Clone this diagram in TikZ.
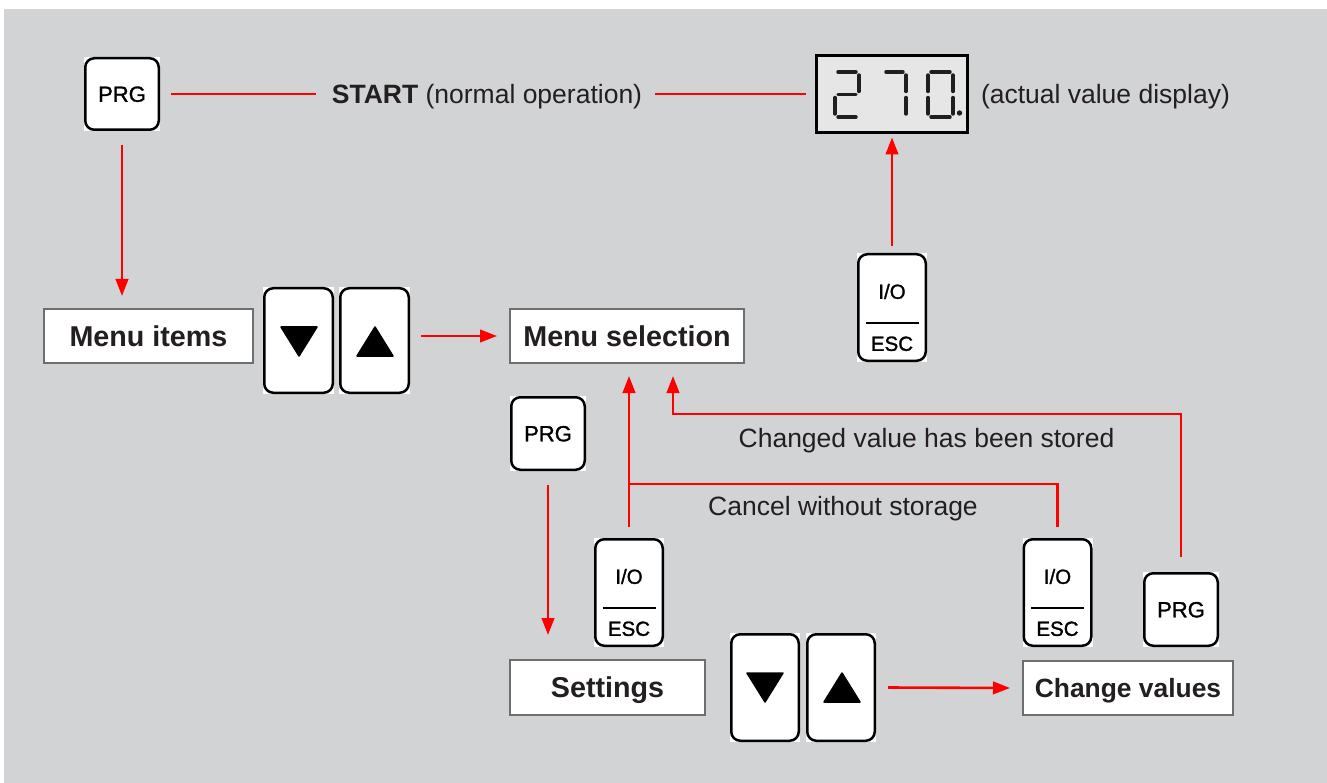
\documentclass[tikz,border=0pt]{standalone}
\usepackage{fontspec}
\setmainfont{Liberation Sans}
\newfontfamily\keyfont{Liberation Sans}[BoldFont={Liberation Sans}, BoldFeatures={FakeBold=1.3}]
\usetikzlibrary{arrows.meta}
\definecolor{bggray}{RGB}{210,211,213}
\definecolor{txt}{RGB}{35,31,32}
\definecolor{boxline}{RGB}{109,110,112}
\definecolor{lcd}{RGB}{230,230,230}
\definecolor{rd}{RGB}{255,0,0}
\newcommand\iobtn[3]{%
  \node[btn, minimum width=70, minimum height=109] (#1) at (#2,#3) {};
  \node[keytxt, font=\keyfont\bfseries\fontsize{20.5}{22}\selectfont, text height=14.7pt] (#1-a) at ([yshift=16pt]#1.center) {I/O};
  \node[keytxt, font=\keyfont\bfseries\fontsize{20.5}{22}\selectfont, text height=14.7pt] (#1-b) at ([yshift=-36pt]#1.center) {ESC};
  \draw[black, line width=1.6pt] ([xshift=-26.5pt,yshift=-15.5pt]#1.center) -- ([xshift=26.5pt,yshift=-15.5pt]#1.center);
}
\begin{document}
\begin{tikzpicture}[x=1pt,y=-1pt,
  btn/.style={rectangle, fill=white, inner sep=0pt, outer sep=0pt, text=black,
    font=\keyfont\bfseries\fontsize{22}{24}\selectfont, text height=15.7pt, text depth=0pt,
    path picture={\draw[black, line width=2.5pt, rounded corners=9pt]
      ([shift={(1.25pt,1.25pt)}]path picture bounding box.south west) rectangle
      ([shift={(-1.25pt,-1.25pt)}]path picture bounding box.north east);}},
  keytxt/.style={inner sep=0pt, outer sep=0pt, text=black, text depth=0pt},
  lbl/.style={rectangle, draw=boxline, line width=2pt, fill=white, inner sep=0pt, outer sep=0pt,
    text=txt, font=\fontsize{28.7}{32}\selectfont\bfseries, text height=20.5pt, text depth=0pt},
  plain/.style={inner sep=0pt, outer sep=0pt, text=txt, font=\fontsize{26.5}{30}\selectfont,
    text height=19pt, text depth=0pt},
  redline/.style={draw=rd, line width=2.6pt},
  arr/.style={redline, -{Triangle[length=17pt,width=12.5pt]}},
  seg/.style={draw=black!88, line width=3.4pt, line cap=round},
  tri/.style={fill=black, draw=black, line width=1.5pt, line join=round}
]
\useasboundingbox (0,0) rectangle (1327,783);
\fill[white] (0,0) rectangle (1327,783);
\fill[bggray] (4,9) rectangle (1327,783);

% --- top row ---
\node[btn, minimum width=76, minimum height=74] (prg1) at (122,94) {PRG};
\node[plain] (start) at (487,94) {\textbf{START} (normal operation)};
\node[rectangle, draw=black, line width=3pt, fill=lcd, minimum width=151, minimum height=77, inner sep=0pt, outer sep=0pt] (disp) at (892,94) {};
\node[plain, anchor=west] (actual) at (981,94) {(actual value display)};

% seven segment digits "270."
% 2
\draw[seg] (838,72) -- (856,72);
\draw[seg] (859,75) -- (859,91.5);
\draw[seg] (838,94.5) -- (856,94.5);
\draw[seg] (835,97.5) -- (835,114);
\draw[seg] (838,117) -- (856,117);
% 7
\draw[seg] (886,72) -- (903,72);
\draw[seg] (906,75) -- (906,91.5);
\draw[seg] (906,97.5) -- (906,114);
% 0
\draw[seg] (931,72) -- (950,72);
\draw[seg] (953,75) -- (953,91.5);
\draw[seg] (953,97.5) -- (953,114);
\draw[seg] (931,117) -- (950,117);
\draw[seg] (928,97.5) -- (928,114);
\draw[seg] (928,75) -- (928,91.5);
\fill[black!88] (959.5,113) circle (2.7);

\iobtn{io1}{892}{307.5}

% --- middle row ---
\node[lbl, minimum width=209, minimum height=54] (menuitems) at (148.5,336) {Menu items};
\node[btn, minimum width=71, minimum height=107] (down1) at (298.5,340.5) {};
\node[btn, minimum width=71, minimum height=107] (up1) at (374.5,340.5) {};
\filldraw[tri] (281,327) -- (317,327) -- (299,356) -- cycle;
\filldraw[tri] (375,327) -- (357,356) -- (393,356) -- cycle;
\node[lbl, minimum width=234, minimum height=54] (menusel) at (627,336) {Menu selection};

\node[btn, minimum width=76, minimum height=75] (prg2) at (548,433.5) {PRG};
\node[plain] (changed) at (926.5,438) {Changed value has been stored};
\node[plain] (cancel) at (843,506) {Cancel without storage};

\iobtn{io2}{629}{592.5}
\iobtn{io3}{1057.5}{592.5}
\node[btn, minimum width=76, minimum height=75] (prg3) at (1181,609.5) {PRG};

% --- bottom row ---
\node[lbl, minimum width=195, minimum height=55] (settings) at (607.5,687.5) {Settings};
\node[btn, minimum width=70, minimum height=109] (down2) at (765,687.5) {};
\node[btn, minimum width=70, minimum height=109] (up2) at (841,687.5) {};
\filldraw[tri] (747,673) -- (783,673) -- (765,702) -- cycle;
\filldraw[tri] (842,673) -- (824,702) -- (860,702) -- cycle;
\node[lbl, minimum width=210, minimum height=54, font=\fontsize{26.4}{30}\selectfont\bfseries, text height=18.9pt] (change) at (1128,688) {Change values};

% --- connectors ---
\draw[redline] ([xshift=11pt]prg1.east) -- ([xshift=-16pt]start.west |- prg1.east);
\draw[redline] ([xshift=13pt]start.east |- prg1.east) -- ([xshift=-11pt]disp.west);
\draw[arr] ([yshift=-14pt]prg1.south) -- ([yshift=13pt]menuitems.north -| prg1.south);
\draw[arr] ([xshift=11pt]up1.east |- menusel.west) -- ([xshift=-13pt]menusel.west);
\draw[arr] ([yshift=7pt]io1.north) -- ([yshift=-5pt]disp.south);
\draw[arr] ([yshift=-14pt]prg2.south) -- ([yshift=25pt]settings.north -| prg2.south);
\draw[arr] ([yshift=11pt]io2.north) -- ([yshift=-13pt]menusel.south -| io2.north);
\coordinate (j1) at (629,484);
\draw[redline] ([yshift=11pt]io3.north) |- (j1);
\coordinate (j2) at (673,414);
\draw[arr] ([yshift=15pt]prg3.north) |- (j2) -- ([yshift=-13pt]menusel.south -| j2);
\draw[arr] ([xshift=12pt]up2.east) -- ([xshift=-13pt]change.west);
\end{tikzpicture}
\end{document}
